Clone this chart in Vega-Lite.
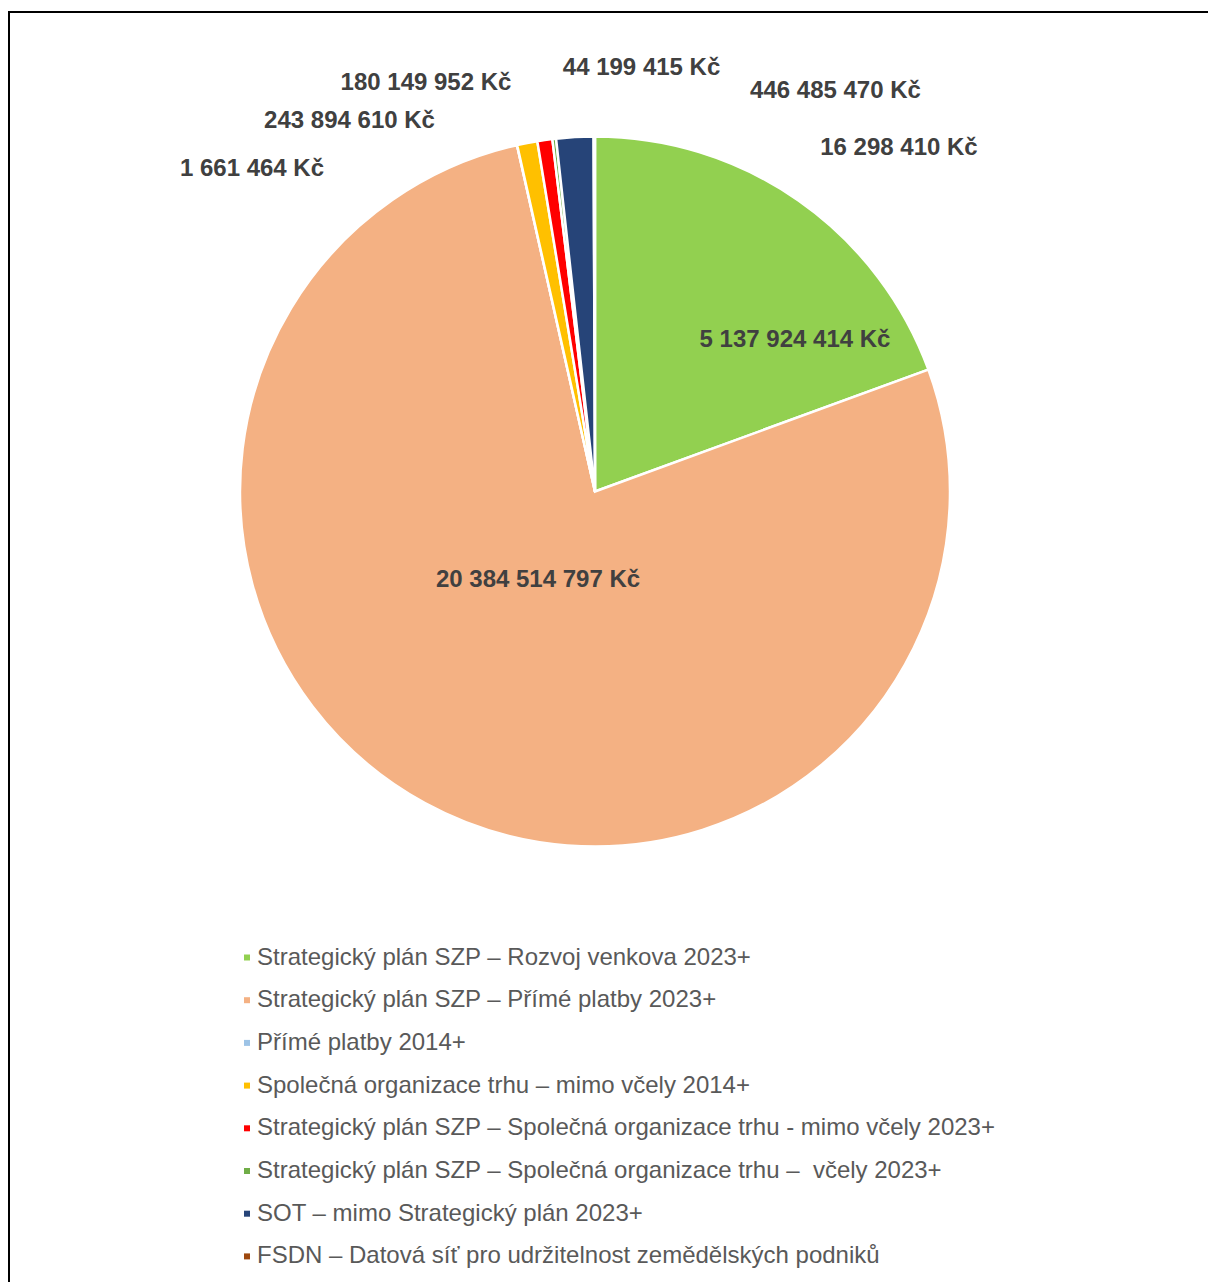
{
  "$schema": "https://vega.github.io/schema/vega-lite/v6.json",
  "width": 1199,
  "height": 1270,
  "autosize": {"type": "none"},
  "padding": {"left": 9, "top": 12, "right": 0, "bottom": 0},
  "background": "white",
  "view": {"stroke": "#000000", "strokeWidth": 2, "strokeDash": [1199, 2469, 1270], "fill": null},
  "config": {
    "font": "Liberation Sans",
    "text": {"font": "Liberation Sans", "fontSize": 24, "fontWeight": "bold", "fill": "#404040", "align": "center", "baseline": "middle"}
  },
  "data": {
    "values": [
      {"i": 1, "category": "Strategický plán SZP – Rozvoj venkova 2023+", "amount": 5137924414, "label": "5 137 924 414 Kč"},
      {"i": 2, "category": "Strategický plán SZP – Přímé platby 2023+", "amount": 20384514797, "label": "20 384 514 797 Kč"},
      {"i": 3, "category": "Přímé platby 2014+", "amount": 1661464, "label": "1 661 464 Kč"},
      {"i": 4, "category": "Společná organizace trhu – mimo včely 2014+", "amount": 243894610, "label": "243 894 610 Kč"},
      {"i": 5, "category": "Strategický plán SZP – Společná organizace trhu - mimo včely 2023+", "amount": 180149952, "label": "180 149 952 Kč"},
      {"i": 6, "category": "Strategický plán SZP – Společná organizace trhu – \u00a0včely 2023+", "amount": 44199415, "label": "44 199 415 Kč"},
      {"i": 7, "category": "SOT – mimo Strategický plán 2023+", "amount": 446485470, "label": "446 485 470 Kč"},
      {"i": 8, "category": "FSDN – Datová síť pro udržitelnost zemědělských podniků", "amount": 16298410, "label": "16 298 410 Kč"}
    ]
  },
  "encoding": {
    "theta": {"field": "amount", "type": "quantitative", "stack": true},
    "order": {"field": "i", "type": "quantitative"}
  },
  "layer": [
    {
      "mark": {"type": "arc", "outerRadius": 355, "stroke": "#ffffff", "strokeWidth": 2.5, "xOffset": -13.5, "yOffset": -155.5},
      "encoding": {
        "color": {
          "field": "category",
          "type": "nominal",
          "sort": {"field": "i"},
          "scale": {
            "domain": [
              "Strategický plán SZP – Rozvoj venkova 2023+",
              "Strategický plán SZP – Přímé platby 2023+",
              "Přímé platby 2014+",
              "Společná organizace trhu – mimo včely 2014+",
              "Strategický plán SZP – Společná organizace trhu - mimo včely 2023+",
              "Strategický plán SZP – Společná organizace trhu – \u00a0včely 2023+",
              "SOT – mimo Strategický plán 2023+",
              "FSDN – Datová síť pro udržitelnost zemědělských podniků"
            ],
            "range": ["#92D050", "#F4B183", "#9DC3E6", "#FFC000", "#FF0000", "#70AD47", "#264478", "#9E480E"]
          },
          "legend": {
            "title": null,
            "orient": "none",
            "legendX": 226,
            "legendY": 933.5,
            "padding": 0,
            "symbolType": "square",
            "symbolSize": 36,
            "symbolStrokeWidth": 0,
            "labelFont": "Liberation Sans",
            "labelFontSize": 24,
            "labelColor": "#595959",
            "labelLimit": 1000,
            "labelOffset": -2,
            "rowPadding": 18.7
          }
        }
      }
    },
    {
      "mark": {"type": "text", "radius": 240, "dx": 62.5, "dy": 45.2, "xOffset": -13.5, "yOffset": -155.5},
      "encoding": {"text": {"condition": {"test": "datum.i === 1", "field": "label"}, "value": ""}}
    },
    {
      "mark": {"type": "text", "radius": 105, "dx": -6.7, "dy": -3.7, "xOffset": -13.5, "yOffset": -155.5},
      "encoding": {"text": {"condition": {"test": "datum.i === 2", "field": "label"}, "value": ""}}
    },
    {
      "mark": {"type": "text", "radius": 380, "dx": -259.6, "dy": 48.7, "xOffset": -13.5, "yOffset": -155.5},
      "encoding": {"text": {"condition": {"test": "datum.i === 3", "field": "label"}, "value": ""}}
    },
    {
      "mark": {"type": "text", "radius": 380, "dx": -172.9, "dy": 2.5, "xOffset": -13.5, "yOffset": -155.5},
      "encoding": {"text": {"condition": {"test": "datum.i === 4", "field": "label"}, "value": ""}}
    },
    {
      "mark": {"type": "text", "radius": 380, "dx": -115.3, "dy": -32.3, "xOffset": -13.5, "yOffset": -155.5},
      "encoding": {"text": {"condition": {"test": "datum.i === 5", "field": "label"}, "value": ""}}
    },
    {
      "mark": {"type": "text", "radius": 380, "dx": 90.2, "dy": -46.5, "xOffset": -13.5, "yOffset": -155.5},
      "encoding": {"text": {"condition": {"test": "datum.i === 6", "field": "label"}, "value": ""}}
    },
    {
      "mark": {"type": "text", "radius": 380, "dx": 262.1, "dy": -21.1, "xOffset": -13.5, "yOffset": -155.5},
      "encoding": {"text": {"condition": {"test": "datum.i === 7", "field": "label"}, "value": ""}}
    },
    {
      "mark": {"type": "text", "radius": 380, "dx": 304.7, "dy": 36, "xOffset": -13.5, "yOffset": -155.5},
      "encoding": {"text": {"condition": {"test": "datum.i === 8", "field": "label"}, "value": ""}}
    }
  ]
}
